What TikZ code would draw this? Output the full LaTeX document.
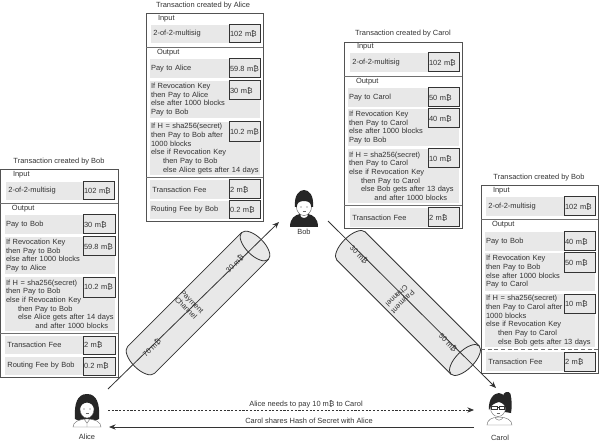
\documentclass[tikz,border=0pt]{standalone}
\usepackage{fontspec}
\usetikzlibrary{arrows.meta,shapes.geometric}
\setmainfont{Liberation Sans}
\newcommand{\mB}{m₿}
\definecolor{rowgrey}{HTML}{E8E8E8}
\definecolor{ink}{HTML}{333333}
\tikzset{
  every node/.style={font=\fontsize{5.6}{6.5}\selectfont, text=ink, inner sep=0pt, outer sep=0pt},
  greyrow/.style={fill=rowgrey, anchor=north west, inner xsep=0.8pt},
  valbox/.style={fill=rowgrey, draw=ink, line width=0.75pt, anchor=north west, inner xsep=0.6pt},
  outer box/.style={draw=ink!85, line width=0.6pt, anchor=north west},
  sepline/.style={draw=ink!70, line width=0.5pt},
  cylfill/.style={fill=rowgrey, draw=ink, line width=0.6pt, ellipse},
  flow/.style={draw=ink, line width=0.6pt, -{Stealth[length=5pt,width=4pt]}},
}
% \rowbox[style]{name}{x1}{y1}{x2}{y2}{text}
\newcommand{\rowbox}[7][greyrow]{%
  \pgfmathsetmacro{\rw}{(#5-#3)*0.75}\pgfmathsetmacro{\rh}{(#6-#4)*0.75}%
  \pgfmathsetmacro{\tw}{\rw-1.6}%
  \node[#1, minimum width=\rw pt, minimum height=\rh pt, text width=\tw pt, align=left] (#2) at (#3,#4) {#7};}
\newcommand{\frameit}[5]{%
  \pgfmathsetmacro{\rw}{(#4-#2)*0.75}\pgfmathsetmacro{\rh}{(#5-#3)*0.75}%
  \node[outer box, minimum width=\rw pt, minimum height=\rh pt] (#1) at (#2,#3) {};}
\begin{document}
\begin{tikzpicture}[x=0.75pt,y=-0.75pt]
\useasboundingbox (0,0) rectangle (600,442);

% ---------- Box 1: Bob (left)
\frameit{A}{0}{169}{118}{377}
\node (At) at (59,162) {Transaction created by Bob};
\node[anchor=west] (Ai) at (13,175) {Input};
\rowbox{Am}{6}{182}{84}{200}{\hspace*{1pt}2-of-2-multisig}
\rowbox[valbox]{Amv}{83}{182}{114}{200}{102 \mB}
\draw[sepline] (0,203) -- (118,203);
\node[anchor=west] (Ao) at (12,209) {Output};
\rowbox{Ap}{5}{215}{84}{234}{Pay to Bob}
\rowbox[valbox]{Apv}{83}{215}{115}{234}{30 \mB}
\rowbox{Ar}{5}{237}{115}{274}{If Revocation Key\\then Pay to Bob\\else after 1000 blocks\\Pay to Alice}
\rowbox[valbox]{Arv}{83}{237}{115}{256}{59.8 \mB}
\rowbox{Ah}{5}{277}{115}{331}{If H = sha256(secret)\\then Pay to Bob\\else if Revocation Key\\\hspace*{9pt}then Pay to Bob\\\hspace*{9pt}else Alice gets after 14 days\\\hspace*{22pt}and after 1000 blocks}
\rowbox[valbox]{Ahv}{83}{277}{115}{297}{10.2 \mB}
\draw[sepline] (0,333) -- (118,333);
\rowbox{Af}{5}{336}{84}{354}{\hspace*{1pt}Transaction Fee}
\rowbox[valbox]{Afv}{83}{336}{115}{354}{2 \mB}
\rowbox{Ab}{5}{357}{84}{375}{\hspace*{1pt}Routing Fee by Bob}
\rowbox[valbox]{Abv}{83}{357}{115}{375}{0.2 \mB}

% ---------- Box 2: Alice
\frameit{B}{146}{13}{263}{221}
\node (Bt) at (203,6) {Transaction created by Alice};
\node[anchor=west] (Bi) at (158,19) {Input};
\rowbox{Bm}{151}{25}{230}{43}{\hspace*{1pt}2-of-2-multisig}
\rowbox[valbox]{Bmv}{229}{25}{260}{43}{102 \mB}
\draw[sepline] (146,47) -- (263,47);
\node[anchor=west] (Bo) at (157,53) {Output};
\rowbox{Bp}{150}{59}{230}{78}{Pay to Alice}
\rowbox[valbox]{Bpv}{229}{59}{260}{78}{59.8 \mB}
\rowbox{Br}{150}{81}{260}{118}{If Revocation Key\\then Pay to Alice\\else after 1000 blocks\\Pay to Bob}
\rowbox[valbox]{Brv}{229}{81}{260}{100}{30 \mB}
\rowbox{Bh}{150}{122}{260}{175}{If H = sha256(secret)\\then Pay to Bob after\\1000 blocks\\else if Revocation Key\\\hspace*{9pt}then Pay to Bob\\\hspace*{9pt}else Alice gets after 14 days}
\rowbox[valbox]{Bhv}{229}{122}{260}{142}{10.2 \mB}
\draw[sepline] (146,177) -- (263,177);
\rowbox{Bf}{150}{180}{230}{199}{\hspace*{1pt}Transaction Fee}
\rowbox[valbox]{Bfv}{229}{180}{260}{199}{2 \mB}
\rowbox{Bb}{150}{201}{230}{219}{Routing Fee by Bob}
\rowbox[valbox]{Bbv}{229}{201}{260}{219}{0.2 \mB}

% ---------- Box 3: Carol
\frameit{C}{344}{42}{462}{228}
\node (Ct) at (403,34) {Transaction created by Carol};
\node[anchor=west] (Ci) at (357,47) {Input};
\rowbox{Cm}{350}{53}{429}{72}{\hspace*{1pt}2-of-2-multisig}
\rowbox[valbox]{Cmv}{428}{53}{459}{72}{102 \mB}
\draw[sepline] (344,76) -- (462,76);
\node[anchor=west] (Co) at (356,82) {Output};
\rowbox{Cp}{348}{88}{429}{107}{Pay to Carol}
\rowbox[valbox]{Cpv}{428}{88}{459}{107}{50 \mB}
\rowbox{Cr}{348}{109}{459}{146}{If Revocation Key\\then Pay to Carol\\else after 1000 blocks\\Pay to Bob}
\rowbox[valbox]{Crv}{428}{109}{459}{128}{40 \mB}
\rowbox{Ch}{348}{149}{459}{203}{If H = sha256(secret)\\then Pay to Carol\\else if Revocation Key\\\hspace*{9pt}then Pay to Carol\\\hspace*{9pt}else Bob gets after 13 days\\\hspace*{19pt}and after 1000 blocks}
\rowbox[valbox]{Chv}{428}{149}{459}{168}{10 \mB}
\draw[sepline] (344,205) -- (462,205);
\rowbox{Cf}{350}{208}{429}{227}{\hspace*{1pt}Transaction Fee}
\rowbox[valbox]{Cfv}{428}{208}{459}{227}{2 \mB}

% ---------- Box 4: Bob (right)
\frameit{D}{481}{185}{598}{373}
\node (Dt) at (539,178) {Transaction created by Bob};
\node[anchor=west] (Di) at (493,191) {Input};
\rowbox{Dm}{486}{197}{565}{216}{\hspace*{1pt}2-of-2-multisig}
\rowbox[valbox]{Dmv}{564}{197}{595}{216}{102 \mB}
\draw[sepline] (481,219) -- (598,219);
\node[anchor=west] (Do) at (492,225) {Output};
\rowbox{Dp}{485}{232}{565}{251}{Pay to Bob}
\rowbox[valbox]{Dpv}{564}{232}{595}{251}{40 \mB}
\rowbox{Dr}{485}{253}{595}{291}{If Revocation Key\\then Pay to Bob\\else after 1000 blocks\\Pay to Carol}
\rowbox[valbox]{Drv}{564}{253}{595}{272}{50 \mB}
\rowbox{Dh}{485}{294}{595}{347}{If H = sha256(secret)\\then Pay to Carol after\\1000 blocks\\else if Revocation Key\\\hspace*{9pt}then Pay to Carol\\\hspace*{9pt}else Bob gets after 13 days}
\rowbox[valbox]{Dhv}{564}{294}{595}{313}{10 \mB}
\draw[sepline,densely dashed] (481,349) -- (598,349);
\rowbox{Df}{486}{352}{565}{371}{\hspace*{1pt}Transaction Fee}
\rowbox[valbox]{Dfv}{564}{352}{595}{371}{2 \mB}

% ---------- Channel 1
\node[cylfill, rotate=-45, minimum width=28.5pt, minimum height=13.5pt] (c1l) at (141,360) {};
\node[ellipse, rotate=-45, minimum width=28.5pt, minimum height=13.5pt] (c1r) at (255,246) {};
\fill[rowgrey] (c1l.west) -- (c1r.west) -- (c1r.east) -- (c1l.east) -- cycle;
\node[cylfill, rotate=-45, minimum width=28.5pt, minimum height=13.5pt] (c1r) at (255,246) {};
\draw[ink, line width=0.6pt] (c1l.west) -- (c1r.west) (c1l.east) -- (c1r.east);
\coordinate (c1a) at (108,389);
\coordinate (c1b) at (279,222);
\draw[flow] (c1a) -- (c1b);
\node[rotate=45] (c1t1) at (152,348) {70 \mB};
\node[rotate=45] (c1t2) at (235,264) {30 \mB};
\node[rotate=-45, align=center] (c1t3) at (189,305) {Payment\\Channel};

% ---------- Channel 2
\node[cylfill, rotate=45, minimum width=30pt, minimum height=13.5pt] (c2l) at (351,246) {};
\node[ellipse, rotate=45, minimum width=30pt, minimum height=13.5pt] (c2r) at (465,360) {};
\fill[rowgrey] (c2l.west) -- (c2r.west) -- (c2r.east) -- (c2l.east) -- cycle;
\node[cylfill, rotate=45, minimum width=30pt, minimum height=13.5pt] (c2r) at (465,360) {};
\draw[ink, line width=0.6pt] (c2l.west) -- (c2r.west) (c2l.east) -- (c2r.east);
\coordinate (c2a) at (328,221);
\coordinate (c2b) at (496,388);
\draw[flow] (c2a) -- (c2b);
\node[rotate=-45] (c2t1) at (359,255) {30 \mB};
\node[rotate=-45] (c2t2) at (448,343) {50 \mB};
\node[rotate=225, align=center] (c2t3) at (400,299) {Payment\\Channel};

% ---------- Bob figure
\begin{scope}[shift={(304,207)}]
  \fill[black!85] (-14,20) .. controls (-14,11) and (-9,8) .. (-4,7) -- (4,7) .. controls (9,8) and (14,11) .. (14,20) -- cycle;
  \fill[white] (-3.5,5) -- (3.5,5) -- (3.5,9) .. controls (1.5,11.5) and (-1.5,11.5) .. (-3.5,9) -- cycle;
  \draw[fill=white, draw=black!70, line width=0.3pt] (0,0) ellipse (7.5 and 8.5);
  \fill[black!85] (-9,0) .. controls (-10,-12) and (-5,-17) .. (0,-17) .. controls (5,-17) and (10,-12) .. (9,0) -- (7.3,0) .. controls (7,-4) and (5,-6) .. (0,-6) .. controls (-5,-6) and (-7,-4) .. (-7.3,0) -- cycle;
  \fill[black!70] (-3,0) circle (0.7) (3,0) circle (0.7);
  \draw[black!60, line width=0.3pt] (-1.5,4.5) -- (1.5,4.5);
\end{scope}
\node (bob) at (304,232) {Bob};

% ---------- Alice figure
\begin{scope}[shift={(87,408)}]
  \fill[black!85] (-12,11) .. controls (-13,-4) and (-10,-14) .. (0,-14) .. controls (10,-14) and (13,-4) .. (12,11) .. controls (8,14) and (-8,14) .. (-12,11) -- cycle;
  \draw[fill=white, draw=black!60, line width=0.3pt] (-14,19) .. controls (-14,14) and (-8,11) .. (0,11) .. controls (8,11) and (14,14) .. (14,19) -- cycle;
  \draw[black!60, line width=0.3pt] (-3,11) -- (0,15) -- (3,11) (0,15) -- (0,19);
  \draw[fill=white, draw=black!60, line width=0.3pt] (0,1) ellipse (7 and 9);
  \fill[black!85] (-7.5,2) .. controls (-8,-6) and (-4,-9) .. (0,-9) .. controls (4,-9) and (8,-6) .. (7.5,2) .. controls (6.5,-3) and (4,-5) .. (0,-5.5) .. controls (-4,-5) and (-6.5,-3) .. (-7.5,2) -- cycle;
  \fill[black!70] (-3,1) circle (0.7) (3,1) circle (0.7);
  \draw[black!60, line width=0.3pt] (-1.5,5.5) .. controls (-.5,6.3) and (.5,6.3) .. (1.5,5.5);
\end{scope}
\node (alice) at (87,437) {Alice};

% ---------- Carol figure
\begin{scope}[shift={(498,408)}]
  \fill[black!85] (5,-12) .. controls (5,-16) and (11,-18) .. (12.5,-14) .. controls (14,-8) and (14,0) .. (13,5) -- (7,4) -- cycle;
  \draw[fill=white, draw=black!60, line width=0.3pt] (-11,17) .. controls (-11,12) and (-6,9) .. (1,9) .. controls (8,9) and (14,12) .. (14,17) -- cycle;
  \draw[black!60, line width=0.3pt] (-3,9.5) .. controls (-1,13) and (3,13) .. (5,9.5);
  \draw[fill=white, draw=black!60, line width=0.3pt] (0,0) ellipse (7.5 and 8.5);
  \fill[black!85] (-9,2) .. controls (-10,-9) and (-4,-15) .. (1,-15) .. controls (6,-15) and (10,-8) .. (8,2) .. controls (8,-2) and (5,-5) .. (1,-6) .. controls (-3,-5) and (-7.5,-3) .. (-9,2) -- cycle;
  \draw[black!80, line width=0.45pt] (-6.5,-1.5) rectangle (-1,1.5) (1,-1.5) rectangle (6.5,1.5) (-1,-1) -- (1,-1);
  \draw[black!60, line width=0.3pt] (-1.5,5) .. controls (-.5,5.8) and (.5,5.8) .. (1.5,5);
\end{scope}
\node (carol) at (500,438) {Carol};

% ---------- Message arrows
\coordinate (m1a) at (108,410);
\coordinate (m1b) at (474,410);
\coordinate (m2a) at (474,427);
\coordinate (m2b) at (109,427);
\draw[flow, dash pattern=on 1.6pt off 1.2pt] (m1a) -- (m1b);
\draw[flow] (m2a) -- (m2b);
\node (m1) at (306,404) {Alice needs to pay 10 \mB{} to Carol};
\node (m2) at (309,421) {Carol shares Hash of Secret with Alice};
\end{tikzpicture}
\end{document}
